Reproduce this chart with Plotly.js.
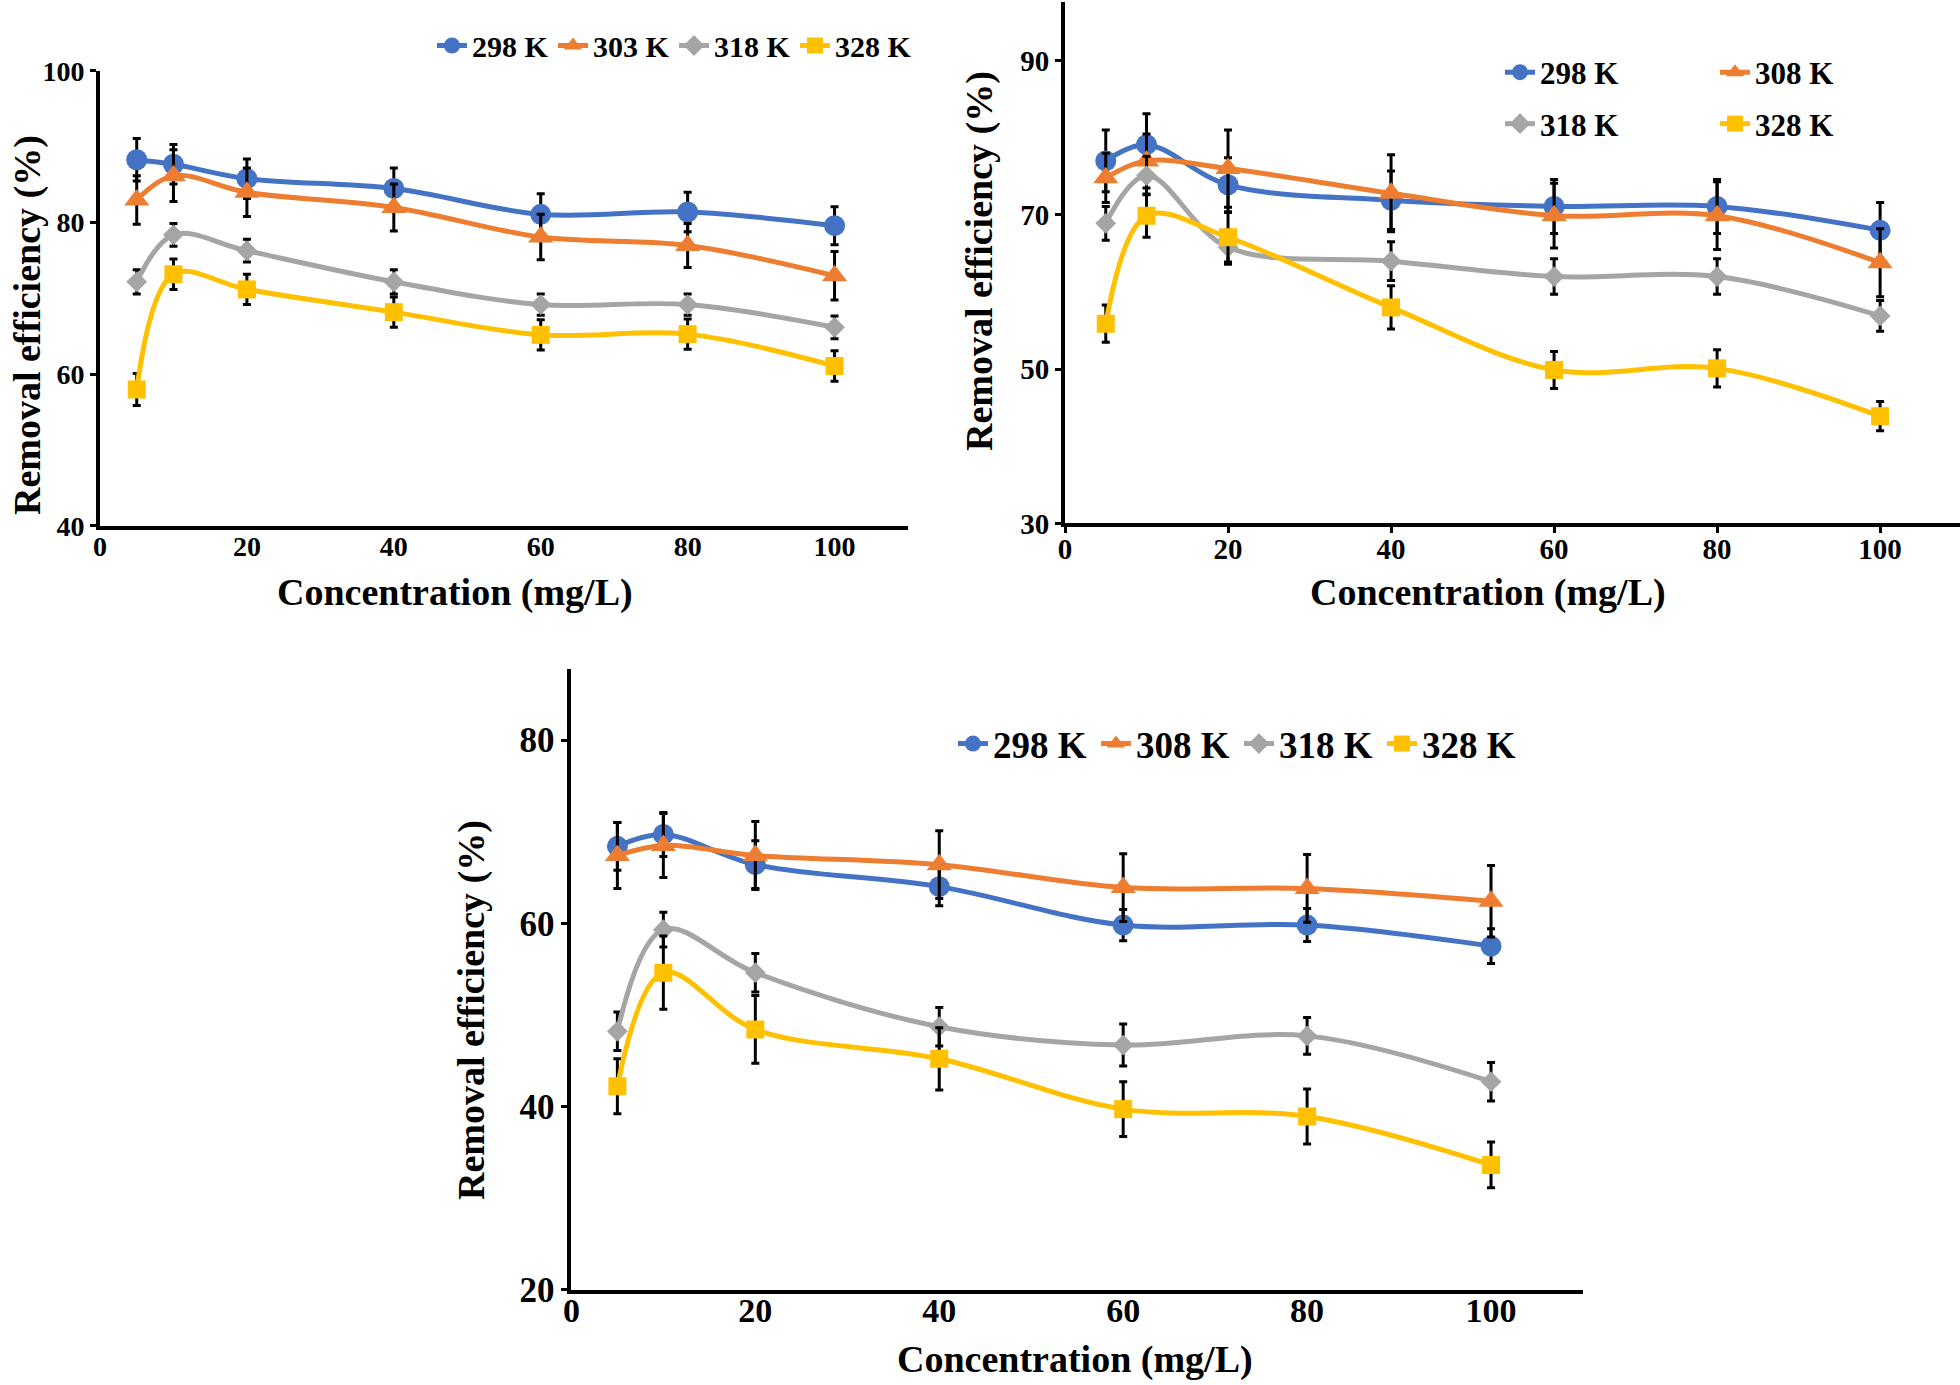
<!DOCTYPE html>
<html><head><meta charset="utf-8">
<script src="https://cdn.plot.ly/plotly-3.0.1.min.js"></script>
<style>html,body{margin:0;padding:0;background:#fff}#chart{width:1960px;height:1385px}</style>
</head><body><div id="chart"></div>
<script>
// ---------- data ----------
const concentration = [5, 10, 20, 40, 60, 80, 100];
const xTickVals = [0, 20, 40, 60, 80, 100];

// Panel A (top-left)
const namesA = ['298 K', '303 K', '318 K', '328 K'];
const a298 = [88.3, 87.7, 85.8, 84.5, 81.1, 81.4, 79.6];
const a303 = [83.0, 86.2, 84.0, 82.0, 78.1, 77.0, 73.0];
const a318 = [72.2, 78.4, 76.3, 72.2, 69.2, 69.2, 66.2];
const a328 = [58.0, 73.2, 71.2, 68.2, 65.2, 65.3, 61.1];
const ea298 = [2.8, 2.6, 2.6, 2.7, 2.7, 2.6, 2.5];
const ea303 = [3.2, 3.4, 3.2, 3.1, 3.0, 2.9, 3.2];
const ea318 = [1.6, 1.5, 1.5, 1.6, 1.4, 1.4, 1.5];
const ea328 = [2.1, 2.0, 2.0, 2.0, 2.0, 2.0, 2.0];
const yTicksA = [40, 60, 80, 100];

// Panel B (top-right)
const namesB = ['298 K', '308 K', '318 K', '328 K'];
const b298 = [77.0, 79.1, 73.9, 71.9, 71.1, 71.1, 68.0];
const b308 = [74.8, 77.0, 76.0, 72.8, 69.9, 69.9, 63.8];
const b318 = [68.9, 75.1, 65.8, 64.0, 62.0, 62.0, 56.9];
const b328 = [55.9, 69.9, 67.1, 58.0, 49.9, 50.1, 43.9];
const eb298 = [4.0, 4.0, 3.5, 3.8, 3.5, 3.5, 3.6];
const eb308 = [3.2, 3.5, 5.0, 5.0, 4.2, 4.4, 4.4];
const eb318 = [2.2, 2.5, 2.2, 2.5, 2.3, 2.3, 2.0];
const eb328 = [2.4, 2.8, 3.2, 2.8, 2.4, 2.4, 1.9];
const yTicksB = [30, 50, 70, 90];

// Panel C (bottom)
const namesC = ['298 K', '308 K', '318 K', '328 K'];
const c298 = [68.4, 69.7, 66.4, 64.0, 59.8, 59.8, 57.5];
const c308 = [67.4, 68.5, 67.4, 66.4, 63.9, 63.8, 62.4];
const c318 = [48.2, 59.3, 54.6, 48.7, 46.7, 47.7, 42.7];
const c328 = [42.2, 54.6, 48.4, 45.2, 39.7, 38.9, 33.6];
const ec298 = [2.6, 2.4, 2.6, 2.1, 1.7, 1.8, 1.9];
const ec308 = [3.6, 3.5, 3.7, 3.7, 3.7, 3.7, 3.9];
const ec318 = [2.1, 1.9, 2.1, 2.1, 2.3, 2.0, 2.1];
const ec328 = [3.0, 4.0, 3.7, 3.4, 3.0, 3.0, 2.5];
const yTicksC = [20, 40, 60, 80];

const xTitle = 'Concentration (mg/L)';
const yTitle = 'Removal efficiency (%)';

// ---------- style ----------
const colors = ['#4472C4', '#ED7D31', '#A5A5A5', '#FFC000'];
const symbols = ['circle', 'triangle-up', 'diamond', 'square'];
const msize = [21, 22, 16, 18];
const FONT = 'Liberation Serif, Times New Roman, serif';

function mk(name, y, err, i, xa, ya, leg) {
  return {
    type: 'scatter', mode: 'lines+markers', name: name,
    x: concentration, y: y, xaxis: xa, yaxis: ya, legend: leg,
    line: {color: colors[i], width: 5, shape: 'spline', smoothing: 1},
    marker: {color: colors[i], symbol: symbols[i], size: msize[i]},
    error_y: {type: 'data', array: err, visible: true, color: '#000', thickness: 3, width: 4}
  };
}

const ysA = [a298, a303, a318, a328], esA = [ea298, ea303, ea318, ea328];
const ysB = [b298, b308, b318, b328], esB = [eb298, eb308, eb318, eb328];
const ysC = [c298, c308, c318, c328], esC = [ec298, ec308, ec318, ec328];

const traces = [];
for (let i = 0; i < 4; i++) traces.push(mk(namesA[i], ysA[i], esA[i], i, 'x', 'y', 'legend'));
for (let i = 0; i < 4; i++) traces.push(mk(namesB[i], ysB[i], esB[i], i, 'x2', 'y2', i < 2 ? 'legend2' : 'legend3'));
for (let i = 0; i < 4; i++) traces.push(mk(namesC[i], ysC[i], esC[i], i, 'x3', 'y3', 'legend4'));

function xax(domain, range, anchor, tickSize, ticks, lblOff) {
  return {
    domain: domain, range: range, anchor: anchor, tickmode: 'array', tickvals: xTickVals,
    showline: true, linewidth: 4, linecolor: '#000', showgrid: false, zeroline: false,
    ticks: ticks, ticklen: 6, tickwidth: 3, tickcolor: '#000', ticklabelstandoff: lblOff,
    tickfont: {family: FONT, size: tickSize, color: '#000', weight: 'bold'}
  };
}
function yax(domain, range, anchor, tv, tickSize) {
  return {
    domain: domain, range: range, anchor: anchor, tickmode: 'array', tickvals: tv,
    showline: true, linewidth: 4, linecolor: '#000', showgrid: false, zeroline: false,
    ticks: 'outside', ticklen: 6, tickwidth: 3, tickcolor: '#000',
    tickfont: {family: FONT, size: tickSize, color: '#000', weight: 'bold'}
  };
}
function leg(x, y, size, ew) {
  return {
    x: x, y: y, xanchor: 'left', yanchor: 'middle', orientation: 'h',
    bgcolor: 'rgba(0,0,0,0)', itemwidth: 30, entrywidth: ew, entrywidthmode: 'pixels',
    font: {family: FONT, size: size, color: '#000', weight: 'bold'}
  };
}
function title(text, x, y, vertical) {
  return {
    text: text, x: x, y: y, xref: 'paper', yref: 'paper', xanchor: 'center', yanchor: 'middle',
    showarrow: false, textangle: vertical ? -90 : 0,
    font: {family: FONT, size: 38, color: '#000', weight: 'bold'}
  };
}

const layout = {
  width: 1960, height: 1385,
  margin: {l: 0, r: 0, t: 0, b: 0},
  paper_bgcolor: '#fff', plot_bgcolor: '#fff',
  showlegend: true,
  xaxis: xax([0.05102, 0.46327], [0, 110], 'y', 28, '', -8),
  yaxis: yax([0.62022, 0.94874], [40, 100], 'x', yTicksA, 28),
  xaxis2: xax([0.54337, 1.0], [0, 109.8], 'y2', 29, 'outside', -9),
  yaxis2: yax([0.62209, 0.99856], [30, 97.6], 'x2', yTicksB, 29),
  xaxis3: xax([0.29153, 0.80765], [0, 110], 'y3', 34, '', -12),
  yaxis3: yax([0.06895, 0.51718], [20, 87.8], 'x3', yTicksC, 35),
  legend: leg(0.2204, 0.96715, 30, 76),
  legend2: leg(0.7653, 0.94765, 31, 170),
  legend3: leg(0.7653, 0.91047, 31, 170),
  legend4: leg(0.4862, 0.46282, 37, 98),
  annotations: [
    title(xTitle, 0.23214, 0.57256, false),
    title(yTitle, 0.01378, 0.76534, true),
    title(xTitle, 0.75893, 0.57220, false),
    title(yTitle, 0.49949, 0.81155, true),
    title(xTitle, 0.54847, 0.01877, false),
    title(yTitle, 0.24082, 0.27076, true)
  ]
};

Plotly.newPlot('chart', traces, layout, {displayModeBar: false, staticPlot: true});
</script>
</body></html>
